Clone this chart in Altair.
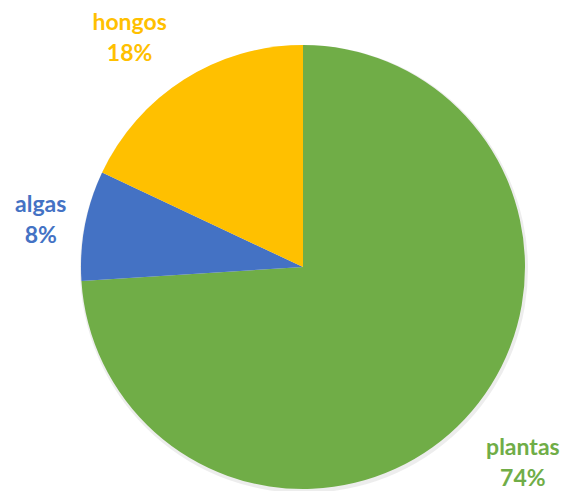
import altair as alt
import pandas as pd

categories = ["plantas", "algas", "hongos"]
values = [74, 8, 18]
colors = ["#70AD47", "#4472C4", "#FFC000"]

df = pd.DataFrame({
    "cat": categories,
    "val": values,
    "ord": list(range(len(categories))),
    "label": [f"{c}\n{v}%" for c, v in zip(categories, values)],
})

color_scale = alt.Scale(domain=categories, range=colors)

base = alt.Chart(df).encode(
    theta=alt.Theta("val:Q", stack=True),
    order=alt.Order("ord:Q"),
)

shadow = base.mark_arc(outerRadius=224, color="#000000", opacity=0.07).encode(
    x=alt.value(304), y=alt.value(269)
)

arcs = base.mark_arc(outerRadius=222).encode(
    x=alt.value(303), y=alt.value(267),
    color=alt.Color("cat:N", scale=color_scale, legend=None),
)

label_pos = {"plantas": (292, 7, -19), "algas": (267, 0, -12), "hongos": (290, -18, 1)}
texts = []
for c in categories:
    r, ddx, ddy = label_pos[c]
    t = base.mark_text(
        font="Lato", fontSize=23, fontWeight="bold", lineBreak="\n",
        lineHeight=31, align="center", baseline="middle", dx=ddx, dy=ddy,
    ).encode(
        x=alt.value(303), y=alt.value(267),
        radius=alt.value(r),
        text="label:N",
        color=alt.Color("cat:N", scale=color_scale, legend=None),
        opacity=alt.condition(alt.datum.cat == c, alt.value(1), alt.value(0)),
    )
    texts.append(t)

chart = alt.layer(shadow, arcs, *texts).properties(
    width=563, height=491, padding=0,
    autosize=alt.AutoSizeParams(type="none"),
).configure_view(stroke=None)

chart.save("out.html", embed_options={"renderer": "svg", "actions": False})
